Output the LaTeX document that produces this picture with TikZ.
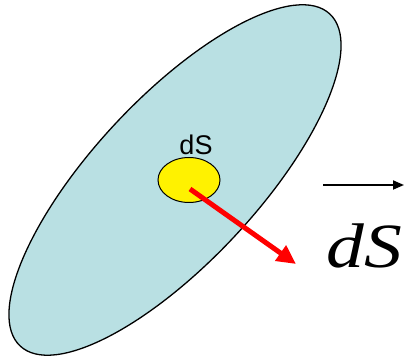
\documentclass[tikz,border=0pt]{standalone}
\usepackage{fontspec}
\usepackage{graphicx}
\setmainfont{Liberation Serif}
\newfontfamily\etiqfont{Liberation Sans}
\usetikzlibrary{arrows.meta,shapes.geometric}

\definecolor{celeste}{RGB}{185,224,227}

\tikzset{
  superficie/.style={draw=black, line width=1.3pt, fill=celeste},
  elemento/.style={ellipse, draw=black, line width=1pt, fill=yellow,
    minimum width=62pt, minimum height=45pt, inner sep=0pt},
  normal/.style={draw=red, line width=5pt, -{Triangle[length=19pt,width=18pt]}}
}

\begin{document}
\begin{tikzpicture}[x=1pt,y=1pt]
  % Parámetros de la superficie: centro, semiejes y giro (grados)
  \def\cx{175}
  \def\cy{178}
  \def\ga{227}
  \def\gb{82}
  \def\giro{47}

  \useasboundingbox (0,0) rectangle (407,358);

  % Superficie S
  \draw[superficie] (\cx,\cy) ellipse [x radius=\ga pt, y radius=\gb pt, rotate=\giro];

  % Elemento de superficie dS
  \node[elemento] (dS) at (189,178) {};
  \node[font=\etiqfont\fontsize{27}{30}\selectfont] (etiq) at (196,213) {dS};

  % Vector normal
  \coordinate (punta) at (296,94);
  \draw[normal] ([shift={(1,-9)}]dS.center) -- (punta);

  % Notación del vector
  \node[font=\fontsize{63}{66}\selectfont\itshape, anchor=base, inner sep=0pt] (vec) at (364,90) {\scalebox{1.2}[1]{dS}};
  \coordinate (barI) at (323,173);
  \coordinate (barD) at (404,173);
  \draw[line width=1.8pt, -{Triangle[length=11pt,width=9pt]}] (barI) -- (barD);
\end{tikzpicture}
\end{document}
